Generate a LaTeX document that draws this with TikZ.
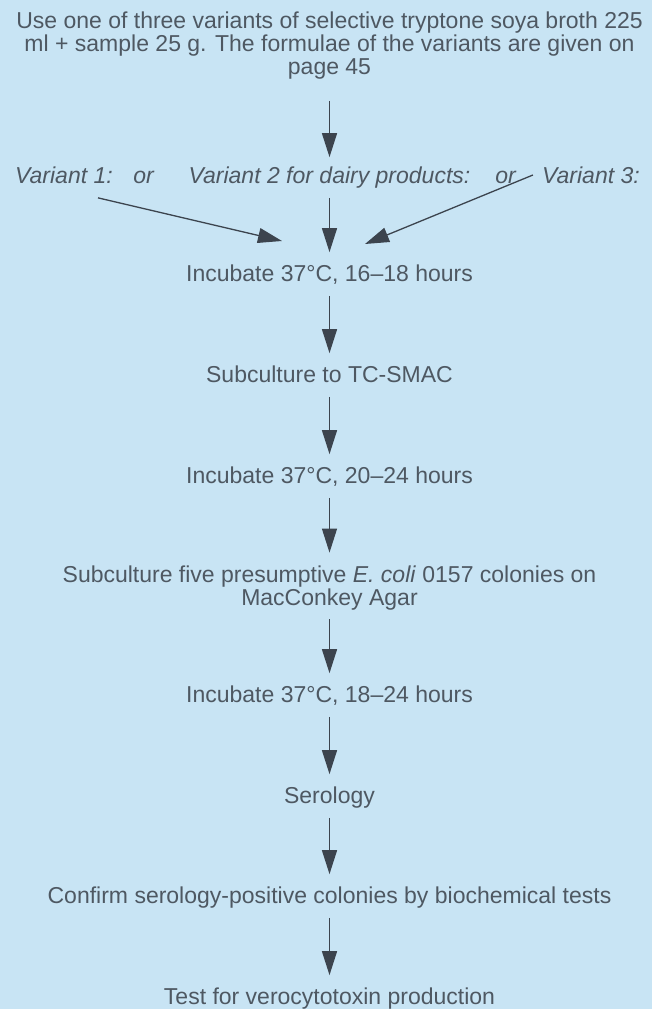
\documentclass[tikz,border=0pt]{standalone}
\usepackage{fontspec}
\setmainfont{Liberation Sans}
\usetikzlibrary{arrows.meta}
\definecolor{paleblue}{RGB}{200, 228, 244}
\definecolor{slateink}{RGB}{78, 88, 98}
\definecolor{slatearrow}{RGB}{60, 68, 78}

\begin{document}
\begin{tikzpicture}[x=1pt, y=-1pt,
    steptext/.style={text=slateink, inner sep=0pt, font=\fontsize{23}{23}\selectfont},
    oneline/.style={steptext, text height=16.5pt, text depth=4.8pt},
    vartext/.style={oneline, font=\fontsize{23}{23}\selectfont\itshape},
    flow/.style={draw=slatearrow, line width=1.3pt,
        -{Triangle[width=15pt,length=24pt]}, shorten <=9pt, shorten >=13pt}]
            % Frame to fix the page
            \fill[paleblue] (0,0) rectangle (652,1009);
            \useasboundingbox (0,0) rectangle (652,1009);
            % Broth and sample
            \node[steptext, align=center] (broth) at (329.5,46)
                {Use one of three variants of selective tryptone soya broth 225\\
                 ml + sample 25 g. The formulae of the variants are given on\\
                 page 45};
            % Three variants
            \node[vartext, anchor=west] (v1) at (15,178) {Variant 1:};
            \node[vartext] (or1) at (143.5,178) {or};
            \node[vartext] (v2) at (329.5,178) {Variant 2 for dairy products:};
            \node[vartext] (or2) at (505.5,178) {or};
            \node[vartext, anchor=west] (v3) at (542,178) {Variant 3:};
            % Steps
            \node[oneline] (inc1) at (329.5,276) {Incubate 37°C, 16–18 hours};
            \node[oneline] (subc) at (329.5,377) {Subculture to TC-SMAC};
            \node[oneline] (inc2) at (329.5,478) {Incubate 37°C, 20–24 hours};
            \node[steptext, align=center] (sub5) at (329.5,588)
                {Subculture five presumptive \textit{E. coli} 0157 colonies on\\
                 MacConkey Agar};
            \node[oneline] (inc3) at (329.5,697) {Incubate 37°C, 18–24 hours};
            \node[oneline] (sero) at (329.5,798) {Serology};
            \node[oneline] (conf) at (329.5,898) {Confirm serology-positive colonies by biochemical tests};
            \node[oneline] (vero) at (329.5,999) {Test for verocytotoxin production};
            % Ends of the slanted arrows
            \coordinate (lefttail) at ([shift={(-15,9)}]v1.south east);
            \coordinate (lefthead) at ([shift={(-47.5,-35)}]inc1.center);
            \coordinate (righttail) at ([shift={(17,-3)}]or2.east);
            \coordinate (righthead) at ([shift={(35.5,-32)}]inc1.center);
            % Arrows
            \draw[flow, shorten <=21pt, shorten >=10pt] (broth) -- (v2);
            \draw[flow, shorten <=0pt, shorten >=0pt] (lefttail) -- (lefthead);
            \draw[flow] (v2) -- (inc1);
            \draw[flow, shorten <=0pt, shorten >=0pt] (righttail) -- (righthead);
            \draw[flow] (inc1) -- (subc);
            \draw[flow] (subc) -- (inc2);
            \draw[flow] (inc2) -- (sub5);
            \draw[flow] (sub5) -- (inc3);
            \draw[flow] (inc3) -- (sero);
            \draw[flow] (sero) -- (conf);
            \draw[flow] (conf) -- (vero);
\end{tikzpicture}
\end{document}
